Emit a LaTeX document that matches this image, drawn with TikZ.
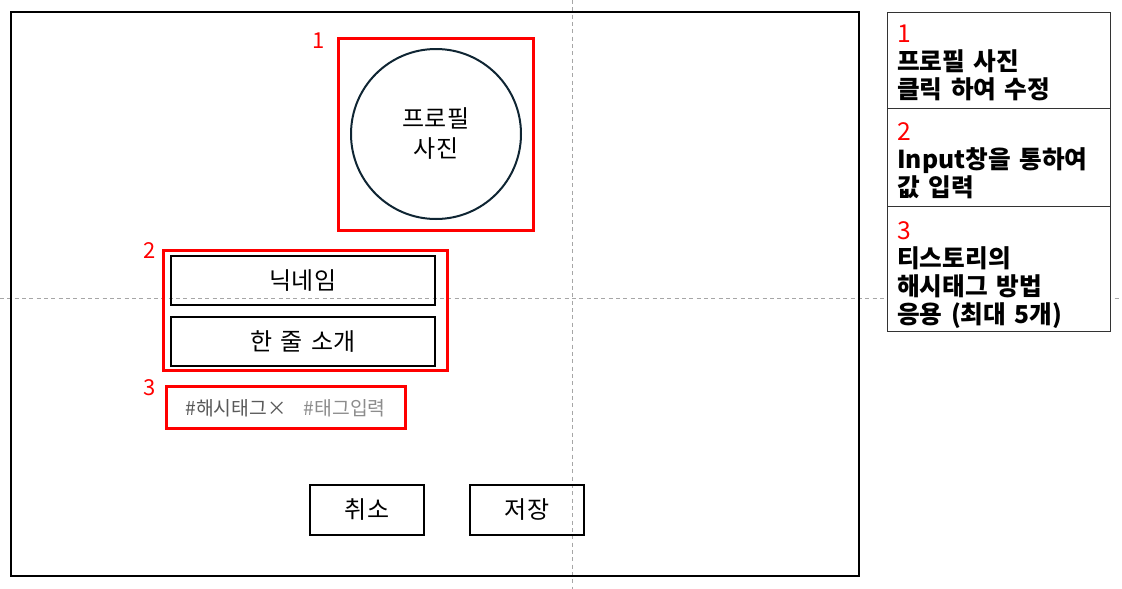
\documentclass[tikz,border=0pt]{standalone}
\usepackage{fontspec}
\setmainfont{Noto Sans CJK KR}[WordSpace=1.5]
\usetikzlibrary{positioning}

\definecolor{circline}{HTML}{0F2533}
\definecolor{tagdark}{HTML}{595959}
\definecolor{taglight}{HTML}{8C8C8C}
\definecolor{cellline}{HTML}{333333}

\tikzset{
  guide/.style={gray!70, line width=0.75pt, dash pattern=on 3pt off 2.5pt},
  frame/.style={draw=black, line width=1.5pt},
  markbox/.style={draw=red, line width=2.25pt},
  field/.style={draw=black, line width=1.5pt, minimum width=198pt, minimum height=36.75pt,
    font=\fontsize{18}{20}\selectfont},
  button/.style={draw=black, line width=1.5pt, minimum width=85.5pt, minimum height=37.5pt,
    font=\fontsize{18}{20}\selectfont},
  num/.style={text=red, inner sep=0pt, font=\fontsize{16.5}{20}\selectfont},
  note/.style={anchor=north west, align=left, inner sep=0pt,
    font=\fontsize{18.5}{21}\selectfont\bfseries},
  cell/.style={draw=cellline, fill=white, line width=0.75pt},
}

\begin{document}
\begin{tikzpicture}[x=0.75pt, y=-0.75pt]
  \useasboundingbox (0,0) rectangle (1122,589);

  % guides
  \draw[guide] (572,0) -- (572,589);
  \draw[guide] (0,298) -- (1122,298);

  % screen
  \draw[frame] (11,12) rectangle (859,576);

  % 1: profile photo
  \draw[markbox] (338,38) rectangle (533,230);
  \node[num] (l1) at (319,41) {1};
  \node[circle, draw=circline, line width=1.5pt, minimum size=127.5pt, align=center,
    font=\fontsize{18}{22.5}\selectfont] (photo) at (436,134) {프로필\\사진};

  % 2: inputs
  \draw[markbox] (163,250) rectangle (447,370);
  \node[num] (l2) at (150,251) {2};
  \node[field] (nick) at (303,280.5) {닉네임};
  \node[field] (intro) at (303,341.5) {한 줄 소개};

  % 3: hashtags
  \draw[markbox] (166,386) rectangle (405,428);
  \node[num] (l3) at (150,388) {3};
  \node[font=\fontsize{14.5}{16}\selectfont] (tags) at (285.5,408)
    {{\color{tagdark}\#해시태그×}\hspace{13pt}{\color{taglight}\#태그입력}};

  % buttons
  \node[button] (cancel) at (367,510) {취소};
  \node[button] (save) at (527,510) {저장};

  % notes
  \draw[cell] (887,12) rectangle (1110,108);
  \draw[cell] (887,108) rectangle (1110,206);
  \draw[cell] (887,206) rectangle (1110,331);
  \node[note] (n1) at (897,25) {{\mdseries\color{red}1}\\프로필 사진\\클릭 하여 수정};
  \node[note] (n2) at (897,122) {{\mdseries\color{red}2}\\Input창을 통하여\\값 입력};
  \node[note] (n3) at (897,221) {{\mdseries\color{red}3}\\티스토리의\\해시태그 방법\\응용 (최대 5개)};
\end{tikzpicture}
\end{document}
